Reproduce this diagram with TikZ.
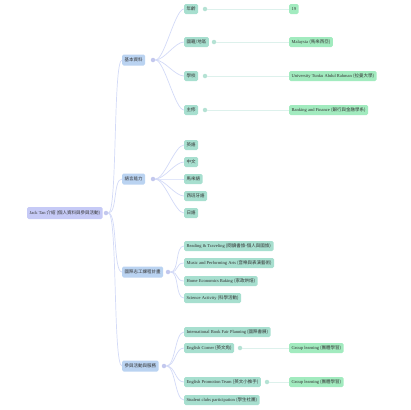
\documentclass[tikz,border=0pt]{standalone}
\usepackage{fontspec}
\setmainfont{Liberation Serif}
\newfontfamily\cjk{Noto Sans CJK TC}
\definecolor{rootc}{HTML}{C6CAF6}
\definecolor{l1c}{HTML}{BAD3F1}
\definecolor{l2c}{HTML}{A7DFCF}
\definecolor{leafc}{HTML}{A2EBBF}
\definecolor{linec}{HTML}{D3DAF7}
\definecolor{leaflinec}{HTML}{DDF1EC}
\definecolor{knobc}{HTML}{C3C8EE}
\definecolor{knobtc}{HTML}{B5E2D4}
\definecolor{txtc}{HTML}{333333}
\tikzset{
  box/.style={rounded corners=1.5pt, minimum height=10pt, inner xsep=2.5pt, inner ysep=0pt, anchor=west, text=txtc, font=\fontsize{4.5}{5.5}\selectfont},
  rootbox/.style={box, fill=rootc, minimum height=12pt},
  lonebox/.style={box, fill=l1c, minimum height=11pt},
  ltwobox/.style={box, fill=l2c},
  leafbox/.style={box, fill=leafc},
  knob/.style={circle, inner sep=0pt, minimum size=4.5pt, fill=#1},
  conn/.style={linec, line width=0.7pt},
  leafconn/.style={leaflinec, line width=1pt},
}
\newcommand{\curve}[2]{\draw[conn] (#1.east) .. controls +(9,0) and +(-9,0) .. (#2.west);}
\begin{document}
\begin{tikzpicture}[x=1pt,y=-1pt]
\useasboundingbox (0,0) rectangle (410,410);
% root
\node[rootbox] (root) at (27,213) {Jack Tan {\cjk 介紹 (個人資料與參與活動)}};
\node[knob=knobc] (rk) at (106,213) {};
% level 1
\node[lonebox] (basic) at (122,60) {\cjk 基本資料};
\node[knob=knobc] (bk) at (153,60) {};
\node[lonebox] (lang) at (122,179) {\cjk 語言能力};
\node[knob=knobc] (lk) at (153,179) {};
\node[lonebox] (vol) at (122,272) {\cjk 國際志工課程計畫};
\node[knob=knobc] (vk) at (168,272) {};
\node[lonebox] (act) at (122,366) {\cjk 參與活動與服務};
\node[knob=knobc] (ak) at (164,366) {};
\foreach \t in {basic,lang,vol,act} { \curve{rk}{\t} }
% basic
\node[ltwobox] (age) at (184,9) {\cjk 年齡};
\node[knob=knobtc] (agek) at (205,9) {};
\node[leafbox] (agev) at (289,9) {19};
\node[ltwobox] (nat) at (184,42) {\cjk 國籍/地區};
\node[knob=knobtc] (natk) at (214,42) {};
\node[leafbox] (natv) at (289,42) {Malaysia {\cjk (馬來西亞)}};
\node[ltwobox] (sch) at (184,76) {\cjk 學校};
\node[knob=knobtc] (schk) at (205,76) {};
\node[leafbox] (schv) at (289,76) {University Tunku Abdul Rahman {\cjk (拉曼大學)}};
\node[ltwobox] (maj) at (184,110) {\cjk 主修};
\node[knob=knobtc] (majk) at (205,110) {};
\node[leafbox] (majv) at (289,110) {Banking and Finance {\cjk (銀行與金融學系)}};
\foreach \t in {age,nat,sch,maj} { \curve{bk}{\t} }
\foreach \a/\b in {agek/agev,natk/natv,schk/schv,majk/majv} { \draw[leafconn] (\a.east) -- (\b.west); }
% language
\node[ltwobox] (en) at (184,145) {\cjk 英語};
\node[ltwobox] (zh) at (184,162) {\cjk 中文};
\node[ltwobox] (ms) at (184,179) {\cjk 馬來語};
\node[ltwobox] (es) at (184,196) {\cjk 西班牙語};
\node[ltwobox] (ja) at (184,213) {\cjk 日語};
\foreach \t in {en,zh,ms,es,ja} { \curve{lk}{\t} }
% volunteer
\node[ltwobox] (rt) at (184,246) {Reading \& Traveling {\cjk (閱讀書旅-個人與國旅)}};
\node[ltwobox] (mu) at (184,263) {Music and Performing Arts {\cjk (音樂與表演藝術)}};
\node[ltwobox] (he) at (184,281) {Home Economics Baking {\cjk (家政烘焙)}};
\node[ltwobox] (sa) at (184,298) {Science Activity {\cjk (科學活動)}};
\foreach \t in {rt,mu,he,sa} { \curve{vk}{\t} }
% activities
\node[ltwobox] (bf) at (184,332) {International Book Fair Planning {\cjk (國際書展)}};
\node[ltwobox] (ec) at (184,348) {English Corner {\cjk (英文角)}};
\node[knob=knobtc] (eck) at (240,348) {};
\node[leafbox] (ecv) at (289,348) {Group learning {\cjk (團體學習)}};
\node[ltwobox] (ep) at (184,382) {English Promotion Team {\cjk (英文小推手)}};
\node[knob=knobtc] (epk) at (267,382) {};
\node[leafbox] (epv) at (289,382) {Group learning {\cjk (團體學習)}};
\node[ltwobox] (sc) at (184,400) {Student clubs participation {\cjk (學生社團)}};
\foreach \t in {bf,ec,ep,sc} { \curve{ak}{\t} }
\draw[leafconn] (eck.east) -- (ecv.west);
\draw[leafconn] (epk.east) -- (epv.west);
\end{tikzpicture}
\end{document}
